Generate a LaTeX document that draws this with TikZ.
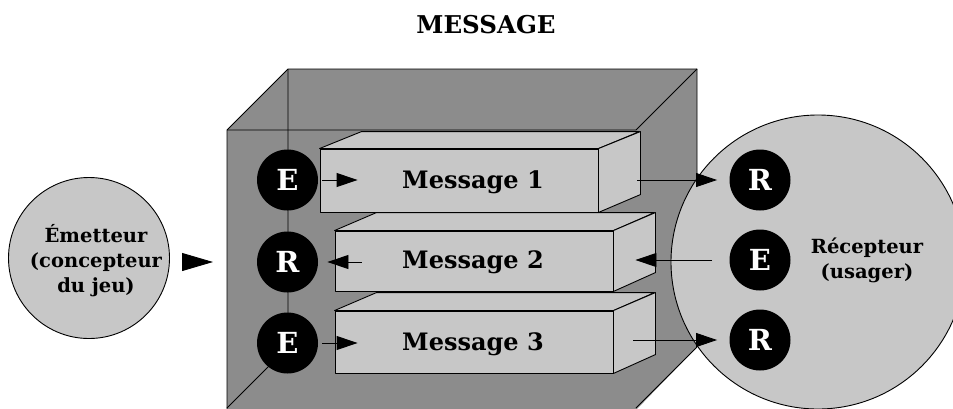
\documentclass[tikz,border=0pt]{standalone}
\usepackage{fontspec}
\setmainfont{DejaVu Serif}
\usetikzlibrary{arrows.meta,positioning,calc}

\definecolor{boxgray}{gray}{0.55}
\definecolor{msggray}{gray}{0.78}

\begin{document}
\begin{tikzpicture}[
  x=1pt, y=-1pt,
  line width=0.9pt,
  face/.style={draw,fill=msggray,line join=round},
  msgfront/.style={face,minimum width=278pt,inner sep=0pt},
  mtxt/.style={font=\bfseries\fontsize{24}{24}\selectfont,anchor=base},
  dot/.style={circle,fill=black,minimum size=61pt,inner sep=0pt,text=white,
              font=\bfseries\fontsize{29}{29}\selectfont},
  big/.style={circle,draw,fill=msggray,inner sep=0pt},
  btxt/.style={align=center,font=\bfseries\fontsize{19.5}{25}\selectfont},
  arr/.style={-{Triangle[length=21pt,width=14pt]}},
  bigarr/.style={-{Triangle[length=31pt,width=18pt]},shorten >=14pt},
]
  \useasboundingbox (0,0) rectangle (953,408);
  \clip (0,0) rectangle (953,408);

  \node[font=\bfseries\fontsize{24.5}{24.5}\selectfont] (title) at (486,25) {MESSAGE};

  % grande boite
  \coordinate (bfl) at (227,130);
  \coordinate (bfr) at (636,130);
  \coordinate (bbl) at (288,69);
  \coordinate (bbr) at (697,69);
  \fill[boxgray] (227,410) -- (bfl) -- (bbl) -- (bbr) -- (697,347) -- (636,410) -- cycle;
  \draw[line join=round] (227,410) -- (bfl) -- (bbl) -- (bbr) -- (697,347) -- (636,408);
  \draw (bfl) -- (bfr) -- (bbr);
  \draw (bbl) -- (288,347) -- (227,408);

  % messages
  \node[msgfront,minimum height=63pt] (m1) at (459,180.5) {};
  \draw[face] (m1.north west) -- ++(42,-17) -- ++(278,0) -- (m1.north east) -- cycle;
  \draw[face] (m1.north east) -- ++(42,-17) -- ++(0,63) -- (m1.south east) -- cycle;
  \node[mtxt] (m1t) at (473,188) {Message 1};

  \node[msgfront,minimum height=60pt] (m2) at (474,261) {};
  \draw[face] (m2.north west) -- ++(42,-18) -- ++(278,0) -- (m2.north east) -- cycle;
  \draw[face] (m2.north east) -- ++(42,-18) -- ++(0,60) -- (m2.south east) -- cycle;
  \node[mtxt] (m2t) at (473,268) {Message 2};

  \node[msgfront,minimum height=62pt] (m3) at (474,342) {};
  \draw[face] (m3.north west) -- ++(42,-18) -- ++(278,0) -- (m3.north east) -- cycle;
  \draw[face] (m3.north east) -- ++(42,-18) -- ++(0,62) -- (m3.south east) -- cycle;
  \node[mtxt] (m3t) at (473,350) {Message 3};

  % emetteur et recepteur
  \node[big,minimum size=294pt] (recep) at (818,262) {};
  \node[btxt] (recept) at (867,260) {Récepteur\\(usager)};
  \node[big,minimum size=161pt] (emet) at (89,258) {};
  \node[btxt] (emett) at (96,261) {Émetteur\\(concepteur\\du jeu)};

  \node[dot] (le1) at (287.5,180) {E};
  \node[dot] (lr2) at (287.5,262) {R};
  \node[dot] (le3) at (287.5,343) {E};
  \node[dot] (rr1) at (760,180) {R};
  \node[dot] (re2) at (760,260) {E};
  \node[dot] (rr3) at (760,340) {R};

  \draw[bigarr] ([xshift=13pt,yshift=-4pt]emet.east) -- ([yshift=-4pt]emet.east -| bfl);
  \draw[arr] ([xshift=4pt]le1.east) -- ([xshift=38pt]le1.east -| m1.west);
  \draw[arr] ([xshift=27pt]lr2.east -| m2.west) -- ([xshift=9pt]lr2.east);
  \draw[arr] ([xshift=4pt]le3.east) -- ([xshift=23pt]le3.east -| m3.west);
  \draw[arr] ([xshift=39pt]m1.east |- rr1.west) -- ([xshift=-12pt]rr1.west);
  \draw[arr] ([xshift=-17pt]re2.west) -- ([xshift=22pt]re2.west -| m2.east);
  \draw[arr] ([xshift=20pt]m3.east |- rr3.west) -- ([xshift=-12pt]rr3.west);
\end{tikzpicture}
\end{document}
